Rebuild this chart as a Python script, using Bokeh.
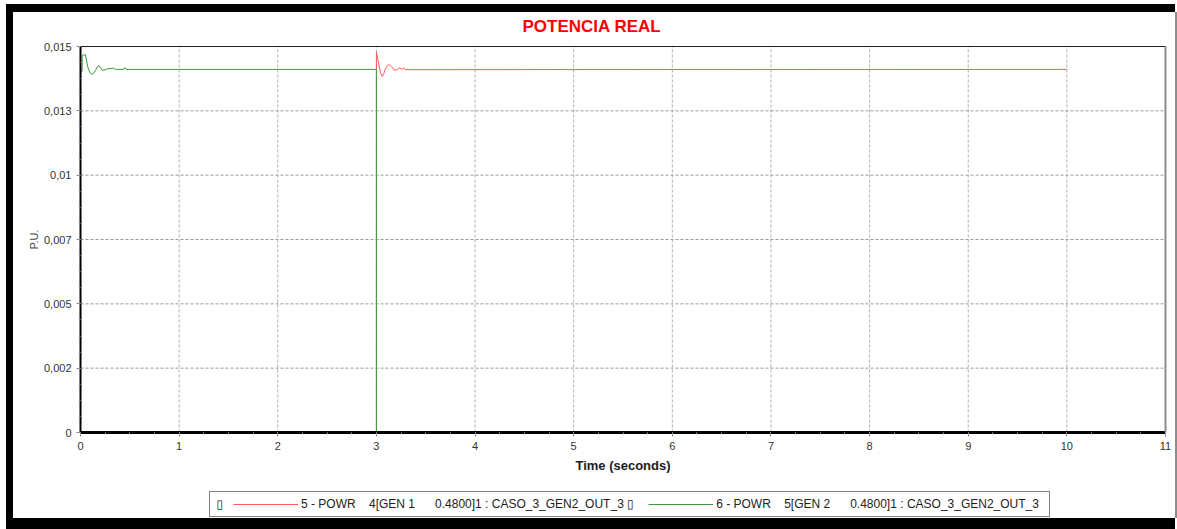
from math import pi
from bokeh.plotting import figure
from bokeh.models import Range1d, FixedTicker, LinearAxis, Legend, LegendItem, Label
from bokeh.embed import file_html
from bokeh.resources import INLINE
import numpy as np

# ---------------- data ----------------
title_text = "POTENCIA REAL"
x_label = "Time (seconds)"
y_label = "P.U."

x_ticks = [0, 1, 2, 3, 4, 5, 6, 7, 8, 9, 10, 11]
x_tick_labels = ["0", "1", "2", "3", "4", "5", "6", "7", "8", "9", "10", "11"]
y_ticks = [0.0, 0.0025, 0.005, 0.0075, 0.01, 0.0125, 0.015]
y_tick_labels = ["0", "0,002", "0,005", "0,007", "0,01", "0,013", "0,015"]

# 5 - POWR 4[GEN 1 ...] (red): out of service until t = 3 s
gen1_time = [0.0, 3.0, 3.0, 3.005, 3.023, 3.040, 3.058, 3.075, 3.091, 3.108, 3.125,
             3.142, 3.159, 3.182, 3.210, 3.236, 3.260, 3.277, 3.294, 10.0]
gen1_powr = [0.0, 0.0, 0.01478, 0.01470, 0.01433, 0.01400, 0.01383, 0.01395, 0.01413, 0.01425, 0.01429,
             0.01426, 0.01420, 0.01407, 0.01411, 0.01416, 0.01411, 0.01417, 0.01410, 0.01411]

# 6 - POWR 5[GEN 2 ...] (green): tripped at t = 3 s
gen2_time = [0.0, 0.017, 0.017, 0.050, 0.074, 0.095, 0.119, 0.135, 0.152, 0.179, 0.203,
             0.220, 0.245, 0.270, 0.337, 0.355, 0.440, 0.449, 0.463, 3.0, 3.0, 10.0]
gen2_powr = [0.01404, 0.01404, 0.01465, 0.01469, 0.01420, 0.01398, 0.01391, 0.01397, 0.01407, 0.01426, 0.01420,
             0.01407, 0.01409, 0.01413, 0.01416, 0.01411, 0.01411, 0.01418, 0.01411, 0.01411, 0.0, 0.0]

NB = "\u00a0"
legend_labels = [
    "5 - POWR" + NB * 4 + "4[GEN 1" + NB * 6 + "0.4800]1 : CASO_3_GEN2_OUT_3" + NB + "\u25af",
    "6 - POWR" + NB * 4 + "5[GEN 2" + NB * 6 + "0.4800]1 : CASO_3_GEN2_OUT_3" + NB * 2,
]
series_colors = ["#ff5a5a", "#3c9e3c"]

FONT = "Liberation Sans"

x_min, x_max = 0.0, 11.0
y_min, y_max = 0.0, 0.015

# ---------------- layout geometry (pixels) ----------------
W, H = 1162, 506
TOP_BORDER = 26                     # space reserved for the title
DATA_TOP, LEFT, RIGHT = 34, 67, 10  # pixel position of the data area inside the canvas
DATA_W = W - LEFT - RIGHT           # pixel width of the data area (0 .. 11)
DATA_H = 386                        # pixel height of the data area (0 .. 0.015)
BELOW_H = H - DATA_TOP - DATA_H     # room under y = 0 for tick labels, axis title and legend
x_unit = (x_max - x_min) / DATA_W   # data units per pixel
y_unit = (y_max - y_min) / DATA_H

x_low = x_min - LEFT * x_unit
x_high = x_max + RIGHT * x_unit
y_low = y_min - BELOW_H * y_unit
y_high = y_max + (DATA_TOP - TOP_BORDER) * y_unit

p = figure(width=W, height=H,
           x_range=Range1d(x_low, x_high), y_range=Range1d(y_low, y_high),
           output_backend="svg", toolbar_location=None,
           min_border_left=0, min_border_right=0,
           min_border_top=TOP_BORDER, min_border_bottom=0,
           background_fill_color="white", border_fill_color="white")

# outer window frame drawn as box-shadows (does not affect layout)
p.styles = {
    "position": "relative",
    "left": "13px",
    "top": "12px",
    "box-shadow": ("-7px -8px 0 0 black, 0 -8px 0 0 black, "
                   "0 11px 0 0 black, -7px 11px 0 0 black, 2px 0 0 0 #8c8c8c"),
}

p.title.text = title_text
p.title.align = "left"
p.title.offset = 509
p.title.standoff = 5
p.title.text_color = "#ff0000"
p.title.text_font = FONT
p.title.text_font_size = "17px"
p.title.text_font_style = "bold"

p.outline_line_color = None
p.xgrid.visible = False
p.ygrid.visible = False

# dashed grid, limited to the data area
p.multi_line(xs=[[t, t] for t in x_ticks], ys=[[y_min, y_max] for _ in x_ticks],
             line_color="#b0b0b0", line_dash="3 2", line_width=1, level="underlay")
p.multi_line(xs=[[x_min, x_max] for _ in y_ticks], ys=[[t, t] for t in y_ticks],
             line_color="#9a9a9a", line_dash="3 2", line_width=1, level="underlay")

# axes (drawn inside the enlarged frame so that no label gets clipped)
x_minor = list(np.arange(x_min, x_max + 1e-9, 0.25))
y_minor = list(np.arange(y_min, y_max + 1e-9, 0.000625))

xa = p.xaxis[0]
xa.fixed_location = y_min
xa.bounds = (x_min, x_max)
xa.ticker = FixedTicker(ticks=x_ticks, minor_ticks=x_minor)
xa.major_label_overrides = {t: l for t, l in zip(x_ticks, x_tick_labels)}
xa.axis_line_color = "black"
xa.axis_line_width = 3

ya = p.yaxis[0]
ya.fixed_location = x_min
ya.bounds = (y_min, y_max)
ya.ticker = FixedTicker(ticks=y_ticks, minor_ticks=y_minor)
ya.major_label_overrides = {t: l for t, l in zip(y_ticks, y_tick_labels)}
ya.axis_line_color = "black"
ya.axis_line_width = 2

for ax in (xa, ya):
    ax.major_label_text_font = FONT
    ax.major_label_text_font_size = "11px"
    ax.major_label_text_color = "#333333"
    ax.major_label_standoff = 5
    ax.major_tick_in = 0
    ax.major_tick_out = 4
    ax.minor_tick_in = 0
    ax.minor_tick_out = 2
    ax.major_tick_line_color = "#888888"
    ax.minor_tick_line_color = "#999999"

right_axis = LinearAxis(ticker=FixedTicker(ticks=[]), fixed_location=x_max,
                        bounds=(y_min, y_max),
                        axis_line_color="#8c8c8c", axis_line_width=2,
                        major_tick_line_color=None, minor_tick_line_color=None,
                        major_tick_out=0, minor_tick_out=0)
p.add_layout(right_axis, "right")

top_axis = LinearAxis(ticker=FixedTicker(ticks=[]), fixed_location=y_max,
                      bounds=(x_min, x_max),
                      axis_line_color="#222222", axis_line_width=1,
                      major_tick_line_color=None, minor_tick_line_color=None,
                      major_tick_out=0, minor_tick_out=0)
p.add_layout(top_axis, "above")

# axis titles
p.add_layout(Label(x=(x_min + x_max) / 2, y=y_min - 33 * y_unit, text=x_label,
                   text_align="center", text_baseline="middle",
                   text_font=FONT, text_font_size="13px", text_font_style="bold",
                   text_color="#1a1a1a"))
p.add_layout(Label(x=x_min - 47 * x_unit, y=(y_min + y_max) / 2, text=y_label,
                   angle=pi / 2, text_align="center", text_baseline="middle",
                   text_font=FONT, text_font_size="11px", text_color="#444444"))

# series
r1 = p.line(gen1_time, gen1_powr, line_color=series_colors[0], line_width=1)
r2 = p.line(gen2_time, gen2_powr, line_color=series_colors[1], line_width=1)

legend = Legend(
    items=[LegendItem(label=legend_labels[0], renderers=[r1]),
           LegendItem(label=legend_labels[1], renderers=[r2])],
    orientation="horizontal",
    location=(LEFT + 129, 1),
    margin=0, padding=3, spacing=14,
    glyph_width=65, glyph_height=18, label_height=18, label_standoff=3,
    border_line_color="black", border_line_width=1,
    background_fill_color="white", background_fill_alpha=1,
    label_text_font=FONT, label_text_font_size="12px", label_text_color="#222222",
    title="\u25af", title_location="left", title_standoff=6,
    title_text_font=FONT, title_text_font_size="12px",
    title_text_font_style="normal", title_text_color="#222222",
)
p.add_layout(legend, "center")

open("out.html", "w").write(file_html(p, INLINE))
